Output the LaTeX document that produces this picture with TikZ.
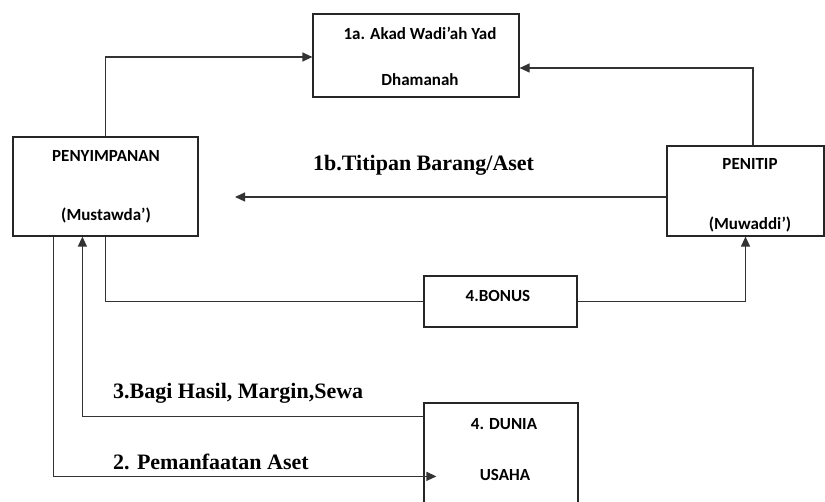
\documentclass[tikz,border=0pt]{standalone}
\usepackage{fontspec}
\setmainfont{Liberation Serif}
\newfontfamily\boxfont{Carlito}
\usetikzlibrary{arrows.meta,calc}
\begin{document}
\begin{tikzpicture}[x=1pt,y=-1pt,
  boxnode/.style={draw=black!85,line width=1.2pt,rectangle,inner sep=0pt},
  boxtext/.style={font=\boxfont\bfseries\fontsize{17}{20}\selectfont,inner sep=0pt},
  lbl/.style={font=\bfseries\fontsize{22}{26}\selectfont,inner sep=0pt,anchor=west},
  conn/.style={draw=black!80,line width=1.2pt},
  arr/.style={conn,-{Triangle[length=10pt,width=9pt]}}]
\useasboundingbox (0,0) rectangle (825,502);
\clip (0,0) rectangle (825,502);
% boxes
\node[boxnode,minimum width=206pt,minimum height=83pt] (akad) at (416,55.5) {};
\node[boxnode,minimum width=185pt,minimum height=99pt] (peny) at (105.5,186.5) {};
\node[boxnode,minimum width=157pt,minimum height=90pt] (penitip) at (745.5,191) {};
\node[boxnode,minimum width=153pt,minimum height=51pt] (bonus) at (500.5,301.5) {};
\node[boxnode,minimum width=154pt,minimum height=127pt] (dunia) at (501,466.5) {};
% box texts
\node[boxtext] (t1) at (420,33) {1a. Akad Wadi’ah Yad};
\node[boxtext] (t2) at (420,80) {Dhamanah};
\node[boxtext] (t3) at (106,156) {PENYIMPANAN};
\node[boxtext] (t4) at (106,215) {(Mustawda’)};
\node[boxtext] (t5) at (750,164) {PENITIP};
\node[boxtext] (t6) at (750,224) {(Muwaddi’)};
\node[boxtext] (t7) at (498,296) {4.BONUS};
\node[boxtext] (t8) at (504,424) {4. DUNIA};
\node[boxtext] (t9) at (505,475) {USAHA};
% labels
\node[lbl] (l1b) at (313,165) {1b.Titipan Barang/Aset};
\node[lbl] (l3) at (113,393) {3.Bagi Hasil, Margin,Sewa};
\node[lbl] (l2) at (113,462) {2. Pemanfaatan Aset};
% connectors
\coordinate (end1b) at (235,197);
\draw[arr] (peny.north) |- ($(akad.west)+(0,1.5)$);
\draw[arr] ($(penitip.north)+(7.5,0)$) |- ($(akad.east)+(0,12.5)$);
\draw[arr] ($(penitip.west)+(0,6)$) -- (end1b);
\draw[conn] (peny.south) |- (bonus.west);
\draw[arr] (bonus.east) -| (penitip.south);
\draw[arr] ($(dunia.north west)+(0,14)$) -| ($(peny.south west)+(70,0)$);
\draw[arr] ($(peny.south west)+(41,0)$) |- ($(dunia.north west)+(13,74)$);
\end{tikzpicture}
\end{document}
